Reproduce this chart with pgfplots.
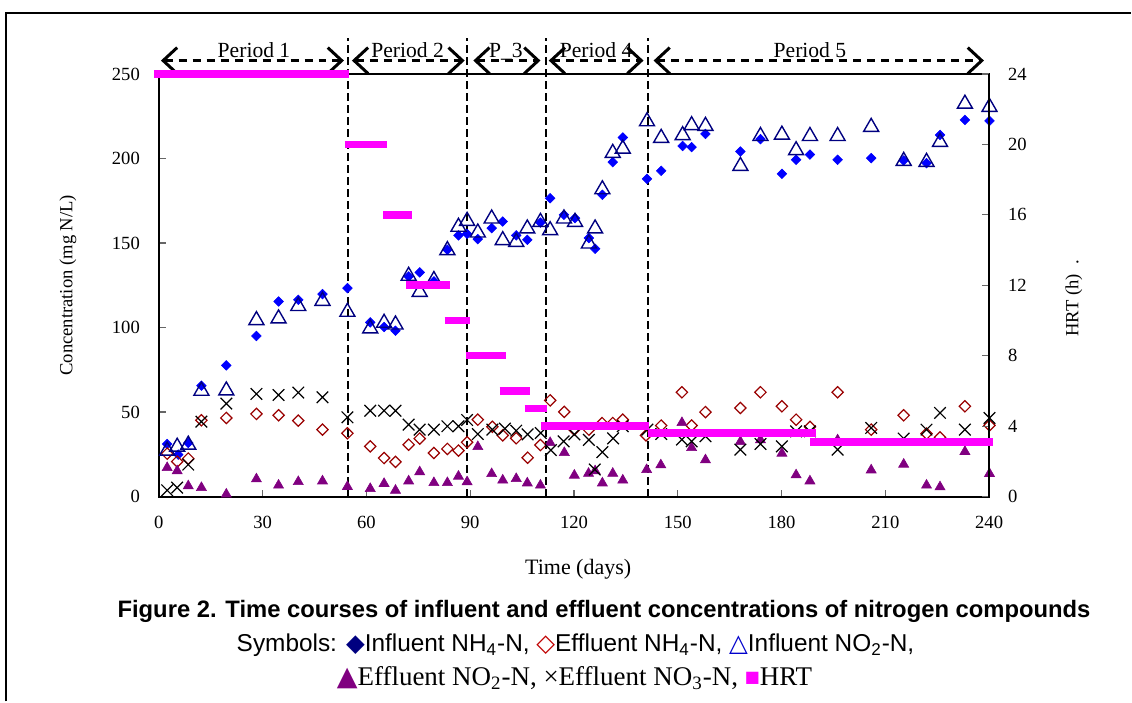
\documentclass[border=0pt]{standalone}
\usepackage{fontspec}
\setmainfont{Liberation Serif}
\newfontfamily\arial{Liberation Sans}
\newfontfamily\sym{DejaVu Sans}
\usepackage{pgfplots}
\usepackage{pgfplotstable}
\pgfplotsset{compat=1.18}
\usetikzlibrary{arrows.meta}
\definecolor{inh}{HTML}{0000FF}
\definecolor{navyc}{HTML}{000080}
\definecolor{enh}{HTML}{990000}
\definecolor{enhcap}{HTML}{C00000}
\definecolor{tricap}{HTML}{0000CC}
\definecolor{purp}{HTML}{800080}
\definecolor{hrt}{HTML}{FF00FF}

\pgfplotstableread{
x y
2.4 31.1
5.6 24.8
8.5 31.7
12.3 65.6
19.5 77.6
28.2 95
34.6 115.4
40.3 116.4
47.3 119.8
54.5 123.3
61.1 103
65.1 100.3
68.4 98.1
72.2 130.2
75.4 132.6
79.5 127.3
83.4 146
86.6 154.5
89.1 155.4
92.2 152.3
96.2 158.8
99.4 162.7
103.3 154.5
106.5 151.9
110.3 162.1
113.1 176.5
117.1 166.7
120.3 164.7
124.3 152.9
126.1 146.6
128.2 178.5
131.2 197.8
134.1 212.4
141.1 187.9
145.2 192.7
151.4 207.4
154 206.7
158 214.5
168.1 204.1
173.9 211.4
180.1 190.9
184.2 199.2
188.2 202.3
196.2 199.2
205.9 200.2
215.3 198.8
221.9 197.2
225.8 213.9
233 222.8
240.1 222.2
}\infnh

\pgfplotstableread{
x y
2.4 25.4
5.3 20.7
8.5 22.5
12.3 45.1
19.5 46.5
28.2 48.9
34.6 48.1
40.3 44.9
47.3 39.6
54.5 37.4
61.1 29.7
65.1 22.8
68.4 20.5
72.2 30.7
75.4 34.3
79.5 25.8
83.4 28.2
86.6 27.2
89.1 32.1
92.2 45.5
96.4 41.3
99.4 36.2
103.3 34.5
106.6 23
110.3 30.5
113.1 56.9
117.2 50.1
120.1 39.6
124.3 39.6
128.1 43.5
131.2 43.5
134.1 45.5
140.8 36.2
145.2 42
151.2 61.7
154 42
158 50
168.1 52.4
173.9 61.7
180.1 53.4
184.2 45.5
188.2 41.2
196.2 61.7
205.9 39.6
215.3 48.1
221.9 37.2
225.8 35
233 53.4
240.1 42.1
}\effnh

\pgfplotstableread{
x y
2.4 28.4
5.3 30.7
8.5 31.9
12.3 63.8
19.5 64
28.2 105.6
34.6 106.6
40.3 113.9
47.3 117
54.5 110.5
61.1 100.7
65.1 104
68.4 103
72.2 131.8
75.4 122.3
79.5 129.3
83.4 147
86.6 160.8
89.1 164.3
92.2 157.4
96.2 165.7
99.4 152.9
103.3 151.9
106.5 159.8
110.3 163.7
113.1 158.8
117.1 165.7
120.3 163.7
124.3 150.9
126.1 159.8
128.2 183
131.2 204.5
134.1 207
141.1 223.2
145.2 213.4
151.4 215
154 220.9
158 220.5
168.1 196.8
173.9 214.5
180.1 215.3
184.2 206.1
188.2 214.5
196.2 214.5
205.9 219.9
215.3 199.8
221.9 199.2
225.8 211
233 233.6
240.1 231.7
}\infno

\pgfplotstableread{
x y
2.4 17.9
5.3 16
8.5 7.1
12.3 6.1
19.5 2.2
28.2 11.2
34.6 7.5
40.3 9.6
47.3 10
54.5 6.7
61.1 5.5
65.1 8.5
68.4 4.5
72.2 10
75.4 15.4
79.5 9
83.4 9
86.6 12.8
89.1 9.5
92.2 30.3
96.2 14.3
99.4 10.5
103.3 11.4
106.5 8.8
110.3 7.5
113.1 32.7
117.2 26.8
120.1 13.4
124.2 14.5
126.1 16
128.2 8.8
131.2 14.5
134.1 10.5
141 16.7
145.1 19.5
151.2 44.5
154 29.7
158 22.5
168.1 33.3
173.9 34.3
180.1 26.4
184.2 13.6
188.2 10
196.2 34.3
205.9 16.5
215.3 19.9
221.9 7.5
225.8 6.5
233 27.4
240.1 14.4
}\effno

\pgfplotstableread{
x y
2.4 3.7
5.3 5.3
8.5 18.9
12.3 44.3
19.5 55
28.2 60.7
34.6 60.1
40.3 61.5
47.3 58.7
54.5 46.9
61.1 50.8
65.1 50.8
68.4 50.8
72.2 42.6
75.4 39.6
79.5 39.6
83.4 41.6
86.6 41.6
89.1 45.3
92.2 37
96.4 39.6
100 40.2
103.3 39
106.6 36.8
110.4 37.6
113.3 27.5
117 32.7
120.1 36.8
124.3 33.5
126 16
128.2 26.3
131.3 34.4
134.1 41.6
141.2 39.6
145.2 37
151.2 33.7
154 32.7
158 35.7
168.1 27.8
173.9 31.1
180.1 29.7
184.2 38.6
188.2 38.6
196.2 27.8
205.9 40.6
215.3 34.3
221.9 39.6
225.8 49.5
233 39.6
240.1 46.5
}\effnthree

\pgfplotstableread{
x y
-1.4 24
55.1 24
55.1 nan
53.7 20
66.0 20
66.0 nan
64.8 16
73.2 16
73.2 nan
71.5 12
84.2 12
84.2 nan
82.6 10
90.0 10
90.0 nan
88.7 8
100.2 8
100.2 nan
98.5 6
107.4 6
107.4 nan
105.7 5
112.1 5
112.1 nan
110.5 4
141.8 4
141.8 nan
141.3 3.6
190.0 3.6
190.0 nan
188.3 3.1
241.0 3.1
}\hrtdata

\begin{document}
\begin{tikzpicture}
\path (0pt,0pt) rectangle (566pt,351pt);
\draw[line width=1pt] (3pt,0pt) -- (3pt,344.5pt) -- (566pt,344.5pt);

\begin{axis}[
  at={(79.5pt,102.5pt)}, anchor=south west,
  scale only axis, width=415.5pt, height=211.5pt,
  xmin=0, xmax=240, ymin=0, ymax=250,
  xtick={0,30,...,240}, ytick={0,50,...,250},
  xtick pos=left, ytick pos=left,
  tick align=inside, major tick length=3.5pt,
  tick style={black!60, line width=0.6pt},
  axis line style={line width=1pt},
  clip=false,
  /pgf/number format/assume math mode=true,
  tick label style={font=\fontsize{9.3}{11}\selectfont},
  yticklabel style={xshift=-6pt},
  xticklabel style={yshift=-6.3pt},
  xlabel={Time (days)}, ylabel={Concentration (mg N/L)},
  xlabel style={at={(axis description cs:0.505,-0.1726)}, anchor=center, font=\fontsize{11}{12}\selectfont},
  ylabel style={at={(axis description cs:-0.1095,0.5)}, anchor=center, font=\fontsize{9.3}{11}\selectfont},
]
\addplot[only marks, mark=square*, mark size=1.7pt, mark options={rotate=45, draw=inh, fill=inh, line width=0.3pt}] table {\infnh};
\addplot[only marks, mark=square, mark size=2pt, mark options={rotate=45, draw=enh, line width=0.6pt}] table {\effnh};
\addplot[only marks, mark=triangle, mark size=4.33pt, mark options={draw=navyc, line width=0.7pt, yshift=-1.1pt}] table {\infno};
\addplot[only marks, mark=triangle*, mark size=2.9pt, mark options={draw=purp, fill=purp, line width=0.3pt, yshift=-0.7pt}] table {\effno};
\addplot[only marks, mark=x, mark size=4.1pt, mark options={draw=black, line width=0.6pt}] table {\effnthree};

% period separators
\foreach \d in {54.7,89.1,112.0,141.3}{
  \edef\tmp{\noexpand\draw[line width=1pt, dash pattern=on 4pt off 2pt] (axis cs:\d,0) -- (axis cs:\d,271.3);}\tmp
}
% period arrows
\tikzset{perarr/.style={line width=1.2pt, dash pattern=on 4pt off 3pt, {Straight Barb[length=7pt,width=13pt,line width=1.5pt]}-{Straight Barb[length=7pt,width=13pt,line width=1.5pt]}}}
\draw[perarr] (axis cs:0.6,257.9) -- (axis cs:53.5,257.9);
\draw[perarr] (axis cs:55.8,257.9) -- (axis cs:88.4,257.9);
\draw[perarr] (axis cs:90.9,257.9) -- (axis cs:110.3,257.9);
\draw[perarr] (axis cs:112.7,257.9) -- (axis cs:140.1,257.9);
\draw[perarr] (axis cs:143.0,257.9) -- (axis cs:238.5,257.9);
\tikzset{pertxt/.style={anchor=base, inner sep=0pt, font=\fontsize{10.8}{12}\selectfont}}
\node[pertxt] at (axis cs:27.5,259.5) {Period 1};
\node[pertxt] at (axis cs:71.9,259.5) {Period 2};
\node[pertxt] at (axis cs:100.3,259.5) {P\_3};
\node[pertxt] at (axis cs:126.4,259.5) {Period 4};
\node[pertxt] at (axis cs:188.2,259.5) {Period 5};
\end{axis}

\begin{axis}[
  at={(79.5pt,102.5pt)}, anchor=south west,
  scale only axis, width=415.5pt, height=211.5pt,
  xmin=0, xmax=240, ymin=0, ymax=24,
  axis x line=none, axis y line*=right,
  ytick={0,4,...,24},
  tick align=inside, major tick length=3.5pt,
  tick style={black!60, line width=0.6pt},
  axis line style={line width=1pt},
  clip=false, unbounded coords=jump,
  /pgf/number format/assume math mode=true,
  tick label style={font=\fontsize{9.3}{11}\selectfont},
  yticklabel style={xshift=6pt},
  ylabel={HRT (h)\hspace{5pt}.},
  ylabel style={at={(axis description cs:1.102,0.47)}, anchor=center, font=\fontsize{9.3}{11}\selectfont},
]
\addplot[hrt, line width=3.8pt, no marks] table {\hrtdata};
\end{axis}

\node[anchor=base, font=\arial\bfseries\fontsize{11.9}{14}\selectfont] at (302.25pt,42pt)
  {Figure 2. Time courses of influent and effluent concentrations of nitrogen compounds};
\node[anchor=base, font=\arial\fontsize{12.2}{14}\selectfont] at (288pt,25pt)
  {Symbols: {\sym\textcolor{navyc}{◆}}Influent NH\textsubscript{4}-N, {\sym\textcolor{enhcap}{◇}}Effluent NH\textsubscript{4}-N, {\sym\textcolor{tricap}{△}}Influent NO\textsubscript{2}-N,};
\node[anchor=base, font=\fontsize{13.5}{15}\selectfont] at (287.5pt,8pt)
  {{\sym\textcolor{purp}{▲}}Effluent NO\textsubscript{2}-N, ×Effluent NO\textsubscript{3}-N, \raisebox{1.5pt}{\sym\fontsize{8}{8}\selectfont\textcolor{hrt}{■}}HRT};
\end{tikzpicture}
\end{document}
